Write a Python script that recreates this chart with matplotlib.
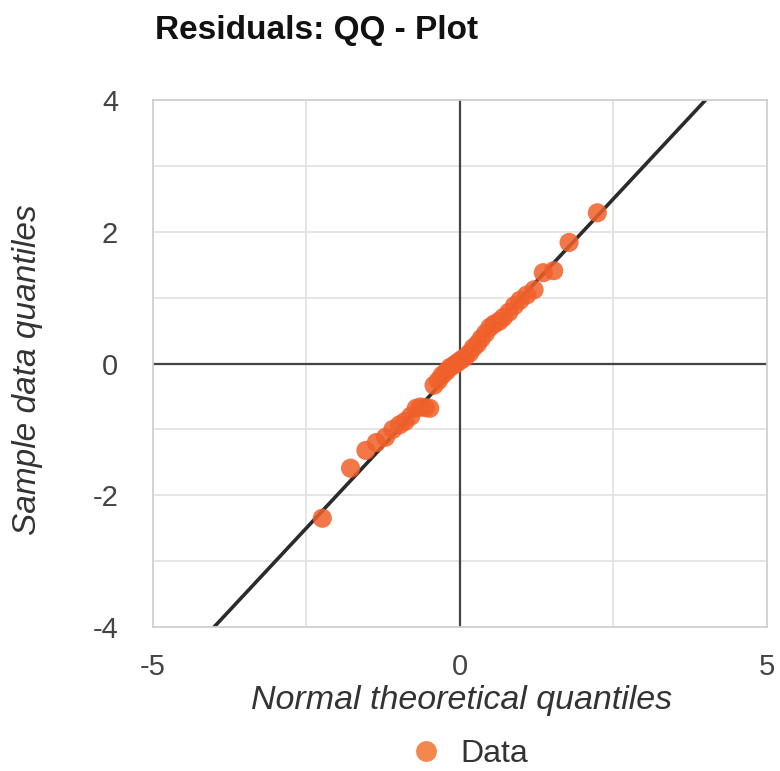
import matplotlib
matplotlib.use("Agg")
import matplotlib.pyplot as plt
from matplotlib.lines import Line2D

plt.rcParams['font.family'] = ['Liberation Sans', 'DejaVu Sans']
plt.rcParams['axes.unicode_minus'] = False

theoretical = [-2.24, -1.78, -1.53, -1.36, -1.21, -1.09, -0.98, -0.89, -0.80, -0.71,
               -0.64, -0.56, -0.49, -0.42, -0.35, -0.29, -0.22, -0.16, -0.09, -0.03,
               0.03, 0.09, 0.16, 0.22, 0.29, 0.35, 0.42, 0.49, 0.56, 0.64,
               0.71, 0.80, 0.89, 0.98, 1.09, 1.21, 1.36, 1.53, 1.78, 2.24]
sample = [-2.35, -1.59, -1.32, -1.20, -1.12, -1.00, -0.93, -0.88, -0.80, -0.68,
          -0.66, -0.67, -0.68, -0.33, -0.26, -0.18, -0.12, -0.06, -0.02, 0.02,
          0.06, 0.10, 0.16, 0.24, 0.30, 0.38, 0.46, 0.55, 0.60, 0.64,
          0.70, 0.78, 0.88, 0.96, 1.04, 1.12, 1.38, 1.41, 1.84, 2.29]
ref_line_x = [-5, 5]
ref_line_y = [-5, 5]
xticks = [-5, 0, 5]
yticks = [-4, -2, 0, 2, 4]

fig = plt.figure(figsize=(7.8, 7.71), dpi=100)
ax = fig.add_axes([0.196, 0.187, 0.787, 0.683])
ax.set_xlim(-5, 5)
ax.set_ylim(-4, 4)

ax.set_xticks(xticks)
ax.set_yticks(yticks)
ax.set_xticks([-2.5, 2.5], minor=True)
ax.set_yticks([-3, -1, 1, 3], minor=True)
ax.grid(True, which='both', color='#e3e3e3', linewidth=1.3)
ax.set_axisbelow(True)
ax.tick_params(which='both', length=0, labelsize=21, colors='#444444')
ax.tick_params(axis='x', pad=19)
ax.tick_params(axis='y', pad=25)
for s in ax.spines.values():
    s.set_color('#d0d0d0')
    s.set_linewidth(1.3)

ax.axhline(0, color='#444444', linewidth=1.6, zorder=1)
ax.axvline(0, color='#444444', linewidth=1.6, zorder=1)

ax.scatter(theoretical, sample, s=190, color='#F0602A', alpha=0.85,
           edgecolors='none', zorder=3)
ax.plot(ref_line_x, ref_line_y, color='#2b2b2b', linewidth=2.6, zorder=2)

fig.text(155/780, 1 - 30/771, 'Residuals: QQ - Plot', fontsize=24,
         fontweight='bold', ha='left', va='center', color='#111111')
fig.text(462/780, 1 - 700/771, 'Normal theoretical quantiles', fontsize=24.5,
         style='italic', color='#333333', ha='center', va='center')
fig.text(28/780, 1 - 370/771, 'Sample data quantiles', fontsize=24,
         style='italic', color='#333333', ha='center', va='center', rotation=90)

handle = Line2D([], [], marker='o', linestyle='none', markersize=15,
                markerfacecolor='#F27A3A', markeredgecolor='none', alpha=0.9)
fig.legend([handle], ['Data'], loc='center', bbox_to_anchor=(469/780, 1 - 754/771),
           frameon=False, fontsize=23, handlelength=1.0, handletextpad=0.6,
           borderpad=0.1, labelcolor='#333333')

fig.savefig('out.png', dpi=100)
